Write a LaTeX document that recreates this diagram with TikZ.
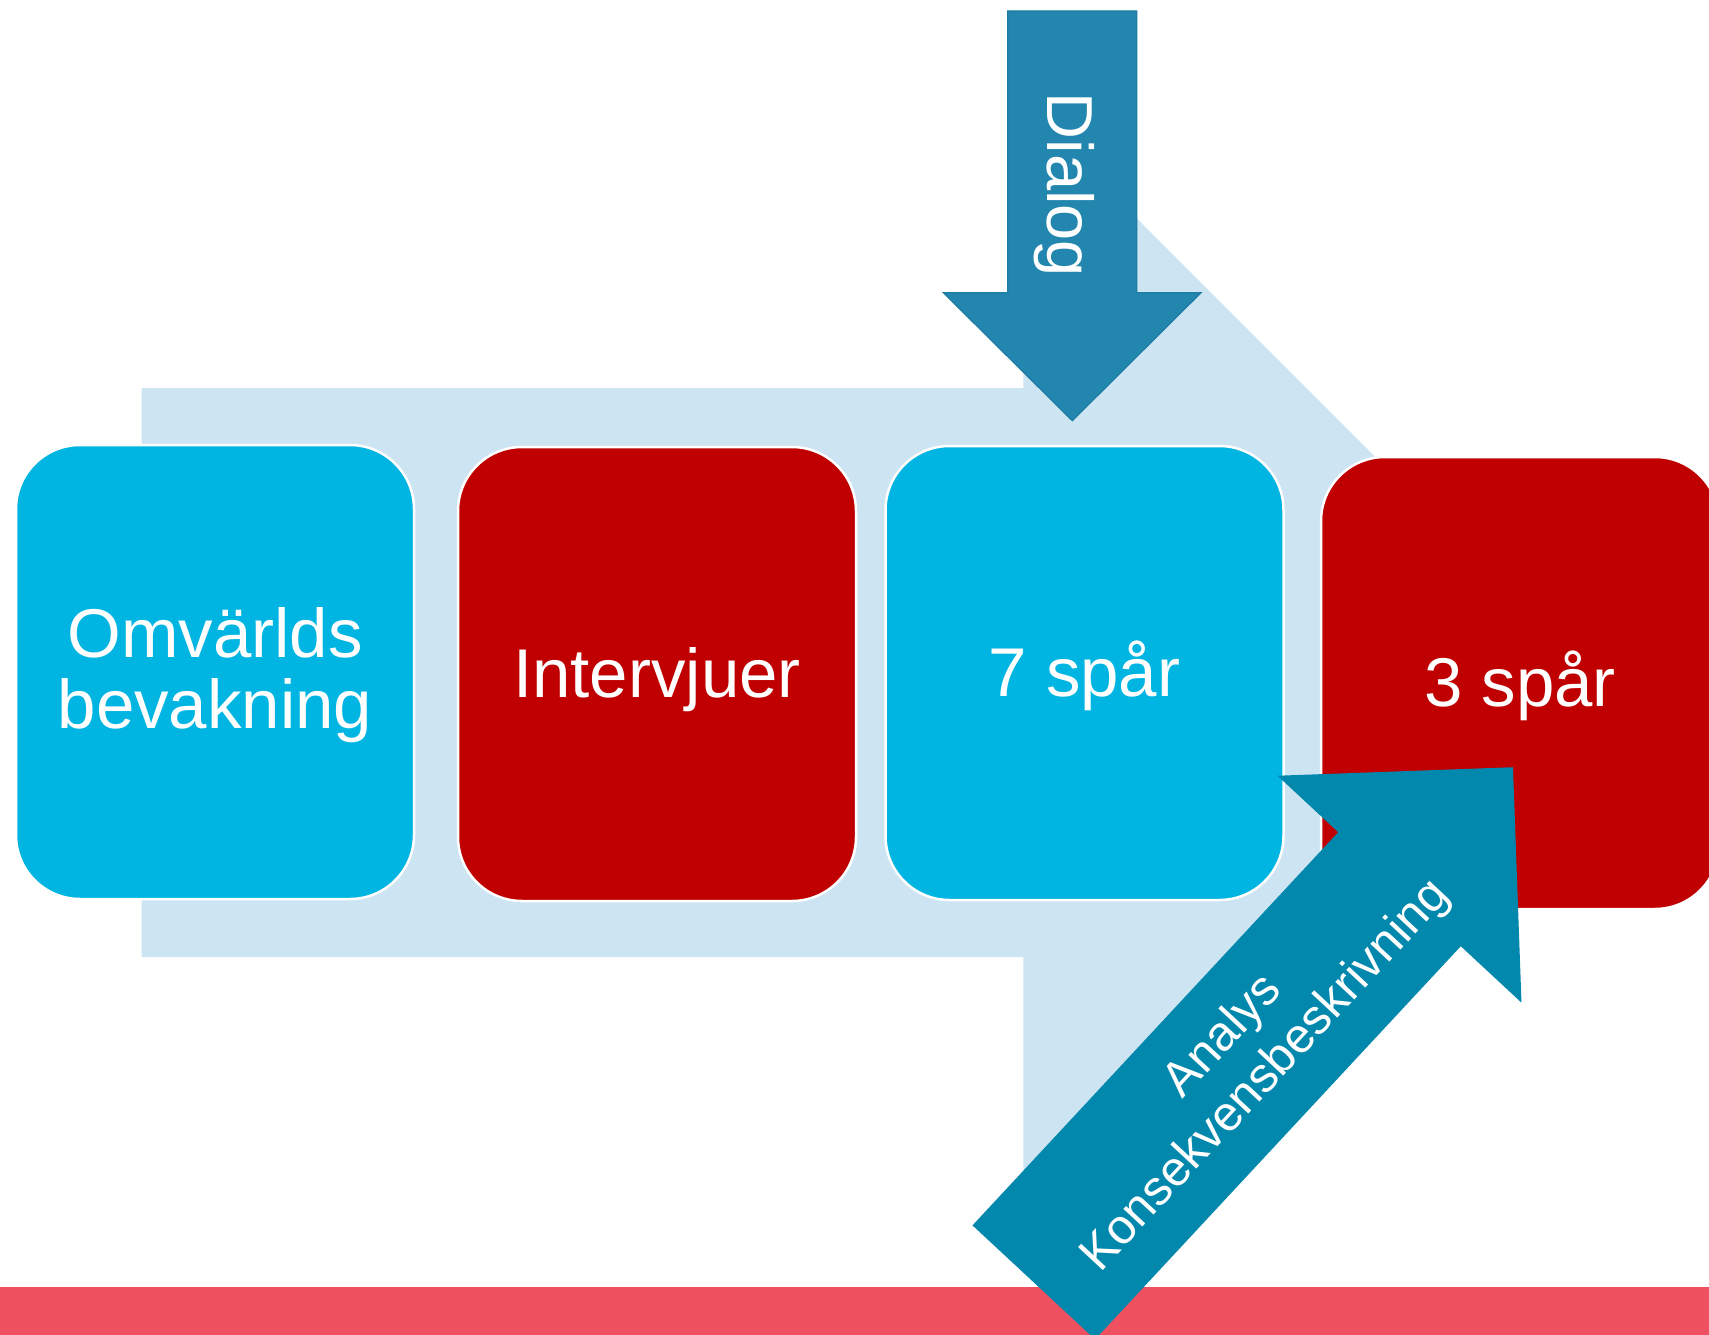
\documentclass[tikz,border=0pt]{standalone}
\usepackage{fontspec}
\setmainfont{Liberation Sans}
\definecolor{paleblue}{RGB}{205,228,243}
\definecolor{skyc}{RGB}{0,181,226}
\definecolor{redc}{RGB}{192,0,0}
\definecolor{dialogc}{RGB}{35,134,174}
\definecolor{dialogedge}{RGB}{28,124,163}
\definecolor{tealc}{RGB}{2,136,173}
\definecolor{bandc}{RGB}{240,81,96}
\begin{document}
\begin{tikzpicture}[x=1pt,y=-1pt,
  stage/.style={rectangle, rounded corners=64pt, draw=white, line width=2.5pt,
    inner sep=0pt, minimum width=398pt, minimum height=454pt, text=white,
    font=\fontsize{69}{71}\selectfont, text height=62.4pt, text depth=14.6pt},
  stagetext/.style={text=white, inner sep=0pt, font=\fontsize{69}{71}\selectfont},
  arrowtext/.style={text=white, inner sep=0pt}]
\useasboundingbox (0,0) rectangle (1709,1335);
\clip (0,0) rectangle (1709,1335);
\fill[white] (0,0) rectangle (1709,1335);

% large pale process arrow behind the stages
\fill[paleblue] (141.7,388) -- (1023.4,388) -- (1023.4,105) -- (1590.9,672.5)
  -- (1023.4,1240) -- (1023.4,957) -- (141.7,957) -- cycle;

% process stages
\node[stage, fill=skyc] (omv) at (215,672) {};
\node[stagetext, anchor=base] (omv1) at (215,657) {Omvärlds};
\node[stagetext, anchor=base] (omv2) at (215,728) {bevakning};
\node[stage, fill=redc] (intv) at (657,674) {Intervjuer};
\node[stage, fill=skyc] (sju) at (1084.5,673) {7 spår};
\node[stage, fill=redc, minimum height=452pt] (tre) at (1520,683) {3 spår};

% downward dialogue arrow
\filldraw[fill=dialogc, draw=dialogedge, line width=1.2pt]
  (1007.7,11) -- (1136.7,11) -- (1136.7,292.7) -- (1201,292.7) -- (1072.3,420.7)
  -- (943.3,292.7) -- (1007.7,292.7) -- cycle;
\node[arrowtext, rotate=-90, anchor=base, font=\fontsize{65}{70}\selectfont]
  (dialog) at (1047,185) {Dialog};

% bottom band
\fill[bandc] (0,1287) rectangle (1709,1335);

% diagonal analysis arrow, drawn along its own axis
\begin{scope}[shift={(1399.5,889.2)}, rotate=47.07]
  \fill[tealc] (-537,-83.7) -- (0,-83.7) -- (0,-166.6) -- (166.6,0)
    -- (0,166.6) -- (0,83.7) -- (-537,83.7) -- cycle;
  \node[arrowtext, rotate=47.07, align=center, font=\fontsize{49}{58}\selectfont]
    (analys) at (-228,0.9) {Analys\\Konsekvensbeskrivning};
\end{scope}
\end{tikzpicture}
\end{document}
